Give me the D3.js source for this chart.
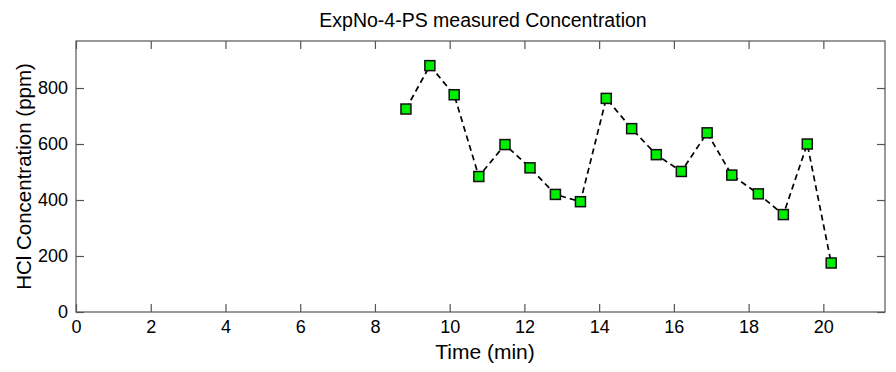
<!DOCTYPE html>
<html>
<head>
<meta charset="utf-8">
<script src="https://cdn.jsdelivr.net/npm/d3@7"></script>
<style>
  html, body { margin: 0; padding: 0; background: #fff; }
  svg { display: block; font-family: "Liberation Sans", Arial, sans-serif; }
</style>
</head>
<body>
<svg id="chart" width="896" height="372"></svg>
<script>
// Measured HCl concentration over time
const timeMin = [8.83, 9.47, 10.12, 10.78, 11.48, 12.15, 12.83, 13.5, 14.19, 14.87, 15.53, 16.2, 16.89, 17.55, 18.26, 18.93, 19.57, 20.21];
const hclPpm  = [725, 880, 776, 484, 598, 515, 420, 394, 763, 655, 562, 502, 640, 489, 422, 348, 600, 175];
const xTicks = [0, 2, 4, 6, 8, 10, 12, 14, 16, 18, 20];
const yTicks = [0, 200, 400, 600, 800];

const svg = d3.select("#chart");
const m = { left: 76, right: 11, top: 41, bottom: 60 };
const W = 896, H = 372;
const xMax = 21.65, yMax = 968;

const x = d3.scaleLinear().domain([0, xMax]).range([m.left, W - m.right]);
const y = d3.scaleLinear().domain([0, yMax]).range([H - m.bottom, m.top]);

const axisColor = "#555";
const tickLen = 8;

// plot frame
svg.append("rect")
  .attr("x", x(0)).attr("y", y(yMax))
  .attr("width", x(xMax) - x(0)).attr("height", y(0) - y(yMax))
  .attr("fill", "#fff").attr("stroke", axisColor).attr("stroke-width", 1.2);

function styleAxis(g) {
  g.select(".domain").remove();
  g.selectAll(".tick line").attr("stroke", axisColor).attr("stroke-width", 1.2);
  g.selectAll(".tick text").attr("fill", "#000").attr("font-size", 18)
    .attr("font-family", "Liberation Sans, Arial, sans-serif");
}

// ticks point inward on all four sides
svg.append("g").attr("transform", `translate(0,${y(0)})`)
  .call(d3.axisBottom(x).tickValues(xTicks).tickFormat(d3.format("d")).tickSizeInner(-tickLen).tickSizeOuter(0).tickPadding(8))
  .call(styleAxis);
svg.append("g").attr("transform", `translate(0,${y(yMax)})`)
  .call(d3.axisTop(x).tickValues(xTicks).tickFormat("").tickSizeInner(-tickLen).tickSizeOuter(0))
  .call(styleAxis);
svg.append("g").attr("transform", `translate(${x(0)},0)`)
  .call(d3.axisLeft(y).tickValues(yTicks).tickFormat(d3.format("d")).tickSizeInner(-tickLen).tickSizeOuter(0).tickPadding(8))
  .call(styleAxis);
svg.append("g").attr("transform", `translate(${x(xMax)},0)`)
  .call(d3.axisRight(y).tickValues(yTicks).tickFormat("").tickSizeInner(-tickLen).tickSizeOuter(0))
  .call(styleAxis);

const pts = timeMin.map((t, i) => ({ t, v: hclPpm[i] }));

// dashed connecting line
svg.append("path")
  .datum(pts)
  .attr("fill", "none")
  .attr("stroke", "#000")
  .attr("stroke-width", 1.7)
  .attr("stroke-dasharray", "6,4")
  .attr("d", d3.line().x(d => x(d.t)).y(d => y(d.v)));

// square markers
const s = 10;
svg.append("g").selectAll("rect")
  .data(pts).join("rect")
  .attr("x", d => x(d.t) - s / 2)
  .attr("y", d => y(d.v) - s / 2)
  .attr("width", s).attr("height", s)
  .attr("fill", "#00ee00")
  .attr("stroke", "#111")
  .attr("stroke-width", 1.5);

// title and axis labels
svg.append("text")
  .attr("x", 483).attr("y", 27)
  .attr("text-anchor", "middle").attr("font-size", 19.5)
  .text("ExpNo-4-PS measured Concentration");

svg.append("text")
  .attr("x", 485).attr("y", 359)
  .attr("text-anchor", "middle").attr("font-size", 21)
  .text("Time (min)");

svg.append("text")
  .attr("transform", `translate(31,${(y(0) + y(yMax)) / 2}) rotate(-90)`)
  .attr("text-anchor", "middle").attr("font-size", 20.5)
  .text("HCl Concentration (ppm)");
</script>
</body>
</html>
